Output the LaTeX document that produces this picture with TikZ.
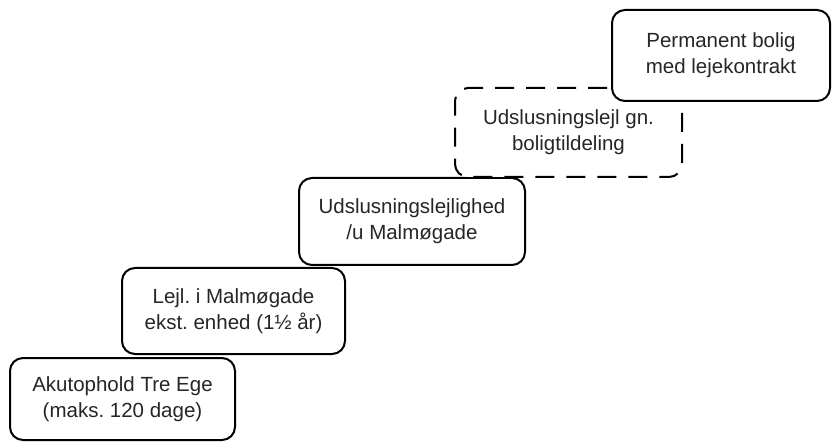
\documentclass[tikz,border=0pt]{standalone}
\usepackage{fontspec}
\setmainfont{Liberation Sans}
\begin{document}
\frenchspacing
\begin{tikzpicture}[x=1pt,y=-1pt,
  stepbox/.style={draw=black, fill=white, line width=2pt, rounded corners=13pt, align=center,
    inner sep=0pt, font=\fontsize{20.5}{26}\selectfont, text=black!85},
  dashbox/.style={stepbox, dash pattern=on 19pt off 12pt}]
\useasboundingbox (0,0) rectangle (832,446);
\node[stepbox, minimum width=225pt, minimum height=82pt] (a) at (122.5,399) {Akutophold Tre Ege\\(maks. 120 dage)};
\node[stepbox, minimum width=223pt, minimum height=86pt] (b) at (233.5,311) {Lejl. i Malmøgade\\ekst. enhed (1½ år)};
\node[stepbox, minimum width=226pt, minimum height=87pt] (c) at (412,221.5) {Udslusningslejlighed\\/u Malmøgade};
\node[dashbox, minimum width=227pt, minimum height=89pt] (d) at (568.5,132.5) {Udslusningslejl gn.\\boligtildeling};
\node[stepbox, minimum width=218pt, minimum height=91pt] (e) at (721,55.5) {Permanent bolig\\med lejekontrakt};
\end{tikzpicture}
\end{document}
